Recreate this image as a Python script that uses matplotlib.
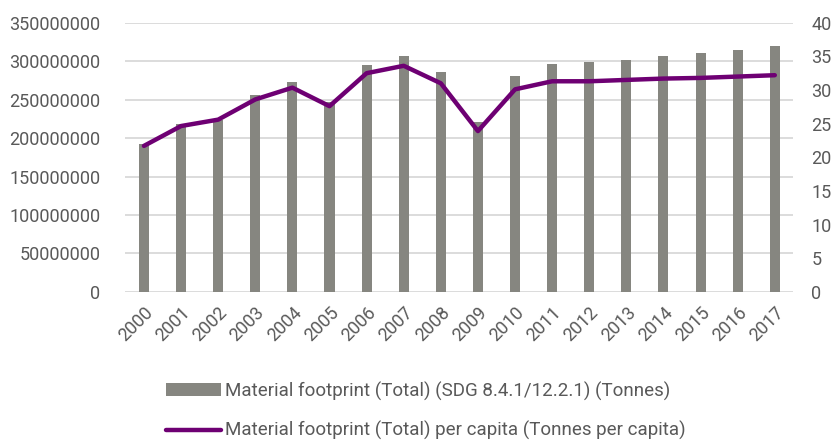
import numpy as np
import matplotlib.pyplot as plt

# Données
years = [str(y) for y in range(2000, 2018)]
total = [191.9e6, 218.4e6, 223.6e6, 256.1e6, 272.5e6, 247.0e6, 295.0e6, 306.8e6,
         286.0e6, 221.4e6, 281.2e6, 296.4e6, 299.0e6, 302.0e6, 306.8e6, 311.1e6,
         315.0e6, 319.3e6]
per_capita = [21.7, 24.65, 25.6, 28.6, 30.35, 27.6, 32.5, 33.6, 31.0, 23.9,
              30.1, 31.3, 31.3, 31.5, 31.7, 31.8, 32.0, 32.2]

plt.rcParams['font.family'] = ['Roboto', 'DejaVu Sans']
txt = '#595959'
grid = '#d9d9d9'

fig = plt.figure(figsize=(8.36, 4.41), dpi=100)
ax = fig.add_axes([0.150, 0.338, 0.799, 0.6105])
ax2 = ax.twinx()

x = np.arange(len(years))
ax.bar(x, total, width=0.27, color='#868680', zorder=2,
       label='Material footprint (Total) (SDG 8.4.1/12.2.1) (Tonnes)')
ax2.plot(x, per_capita, color='#6e0073', lw=3.2, solid_capstyle='round',
         solid_joinstyle='round', zorder=3,
         label='Material footprint (Total) per capita (Tonnes per capita)')

ax.set_ylim(0, 350e6)
ax.set_yticks(np.arange(0, 350e6 + 1, 50e6))
ax.set_yticklabels([str(int(v)) for v in np.arange(0, 350e6 + 1, 50e6)])
ax2.set_ylim(0, 40)
ax2.set_yticks(np.arange(0, 41, 5))
ax.set_xlim(-0.5, len(years) - 0.5)
ax.set_xticks(x)
ax.set_xticklabels(years, rotation=45, ha='right', rotation_mode='anchor')

ax.yaxis.grid(True, color=grid, lw=1.3, zorder=0)
ax.set_axisbelow(True)
for a in (ax, ax2):
    for s in a.spines.values():
        s.set_visible(False)
    a.tick_params(length=0, colors=txt, labelsize=13)
ax.tick_params(axis='y', pad=18)
ax.tick_params(axis='x', pad=8)
ax2.tick_params(axis='y', pad=13)

h1, l1 = ax.get_legend_handles_labels()
h2, l2 = ax2.get_legend_handles_labels()
leg = fig.legend(h1 + h2, l1 + l2, loc='upper left', bbox_to_anchor=(0.19, 0.152),
                 frameon=False, fontsize=13.5, labelspacing=1.1, handlelength=2.9,
                 handletextpad=0.25, borderaxespad=0)
for t in leg.get_texts():
    t.set_color(txt)

plt.savefig('out.png', dpi=100)
